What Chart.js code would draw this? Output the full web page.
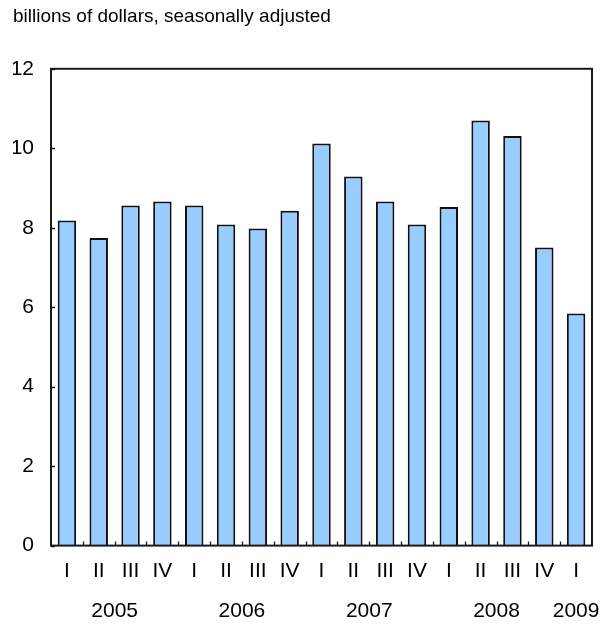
<!DOCTYPE html>
<html>
<head>
<meta charset="utf-8">
<script src="https://cdn.jsdelivr.net/npm/chart.js@4"></script>
<style>
  html, body { margin: 0; padding: 0; background: #fff; }
  #wrap { width: 606px; height: 641px; }
</style>
</head>
<body>
<div id="wrap"><canvas id="quarterChart" width="606" height="641"></canvas></div>
<script>
const quarters = ['I', 'II', 'III', 'IV', 'I', 'II', 'III', 'IV', 'I', 'II', 'III', 'IV', 'I', 'II', 'III', 'IV', 'I']
const values = [8.18, 7.74, 8.56, 8.66, 8.56, 8.08, 7.98, 8.43, 10.12, 9.29, 8.66, 8.08, 8.52, 10.7, 10.31, 7.5, 5.84]
const years = ['2005', '2006', '2007', '2008', '2009']
const yearPos = [1.5, 5.5, 9.5, 13.5, 16]
const yTicks = [0, 2, 4, 6, 8, 10, 12]

const fontFam = '"Liberation Sans", Arial, sans-serif'

// frame round the plot + short inward ticks
const frameTicks = {
  id: 'frameTicks',
  afterDatasetsDraw(chart) {
    const ctx = chart.ctx
    const a = chart.chartArea
    const ys = chart.scales.y
    const xs = chart.scales.x
    ctx.save()
    ctx.strokeStyle = '#1a1a1a'
    ctx.lineWidth = 2
    ctx.strokeRect(a.left, a.top, a.right - a.left, a.bottom - a.top)
    ctx.beginPath()
    yTicks.forEach(v => {
      const py = Math.round(ys.getPixelForValue(v)) + 0.5
      ctx.moveTo(a.left, py)
      ctx.lineTo(a.left + 4, py)
    })
    for (let i = 0; i < quarters.length - 1; i++) {
      const px = Math.round((xs.getPixelForValue(i) + xs.getPixelForValue(i + 1)) / 2) + 0.5
      ctx.moveTo(px, a.bottom)
      ctx.lineTo(px, a.bottom - 4)
    }
    ctx.lineWidth = 1.3
    ctx.stroke()
    ctx.restore()
  }
}

const noSidePad = s => { s.paddingLeft = 0; s.paddingRight = 0 }

new Chart(document.getElementById('quarterChart'), {
  type: 'bar',
  data: {
    labels: quarters,
    datasets: [{
      data: values,
      backgroundColor: '#99ccff',
      borderColor: '#111',
      borderWidth: 2,
      barPercentage: 0.58,
      categoryPercentage: 1
    }]
  },
  options: {
    responsive: false,
    animation: false,
    layout: { padding: { left: 13, right: 14, top: 0, bottom: 15 } },
    plugins: {
      legend: { display: false },
      tooltip: { enabled: false },
      title: {
        display: true,
        text: 'billions of dollars, seasonally adjusted',
        align: 'start',
        color: '#000',
        font: { family: fontFam, size: 19, weight: 'normal' },
        padding: { top: 5, bottom: 41 }
      }
    },
    scales: {
      y: {
        min: 0,
        max: 12,
        afterBuildTicks: s => { s.ticks = yTicks.map(v => ({ value: v })) },
        afterFit: s => { s.width = 38 },
        grid: { display: false, drawTicks: false },
        border: { display: false },
        ticks: { color: '#000', padding: 17, font: { family: fontFam, size: 21 } }
      },
      x: {
        weight: 0,
        afterFit: noSidePad,
        grid: { display: false, drawTicks: false },
        border: { display: false },
        ticks: { color: '#000', padding: 13, autoSkip: false, maxRotation: 0, font: { family: fontFam, size: 21 } }
      },
      years: {
        type: 'linear',
        position: 'bottom',
        weight: 1,
        min: -0.5,
        max: 16.5,
        offset: false,
        afterBuildTicks: s => { s.ticks = yearPos.map(v => ({ value: v })) },
        afterFit: noSidePad,
        grid: { display: false, drawTicks: false },
        border: { display: false },
        ticks: {
          color: '#000',
          padding: 2,
          autoSkip: false,
          maxRotation: 0,
          font: { family: fontFam, size: 21 },
          callback: (v, i) => years[i]
        }
      }
    }
  },
  plugins: [frameTicks]
})
</script>
</body>
</html>
